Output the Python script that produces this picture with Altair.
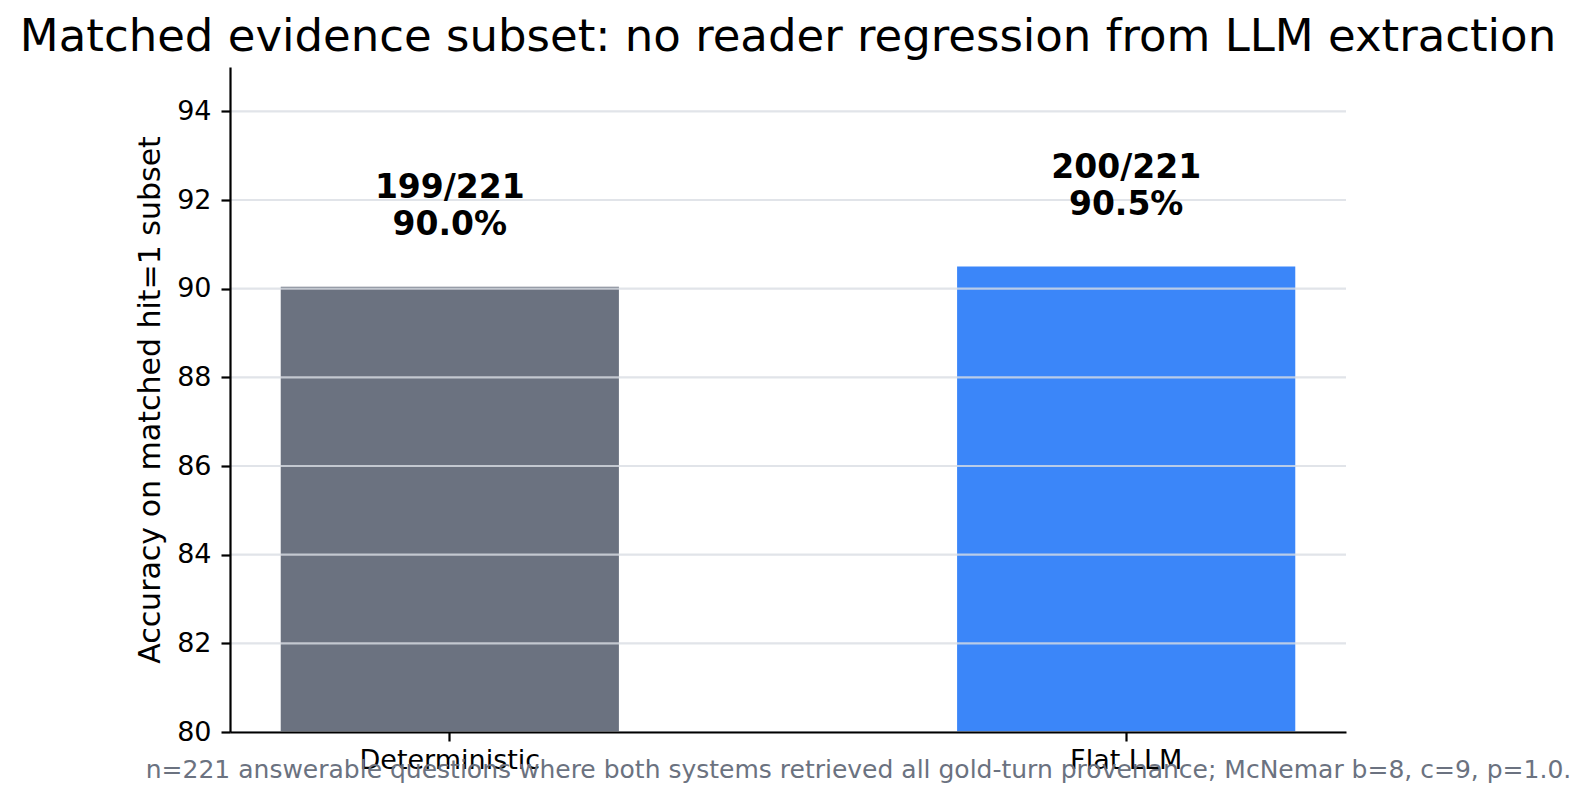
import altair as alt
import pandas as pd

systems = ["Deterministic", "Flat LLM"]
correct = [199, 200]
total = [221, 221]
colors = ["#6B7280", "#3B86F9"]
y_ticks = [80, 82, 84, 86, 88, 90, 92, 94]

df = pd.DataFrame({
    "system": systems,
    "correct": correct,
    "total": total,
    "color": colors,
})
df["acc"] = df["correct"] / df["total"] * 100
df["label"] = [f"{c}/{t}\n{c / t * 100:.1f}%" for c, t in zip(correct, total)]
df["label_y"] = df["acc"] + 1

grid_df = pd.DataFrame({"v": y_ticks})

FONT = "DejaVu Sans"
footnote = ("n=221 answerable questions where both systems retrieved all gold-turn "
            "provenance; McNemar b=8, c=9, p=1.0.")

x_enc = alt.X(
    "system:N",
    sort=systems,
    scale=alt.Scale(paddingInner=0.5, paddingOuter=0.075),
    axis=alt.Axis(
        title=footnote,
        titleFont=FONT, titleFontSize=25, titleFontWeight="normal",
        titleColor="#6B7280", titleX=628, titleY=45, titleAlign="center",
        titleAnchor="start", titleBaseline="alphabetic",
        labelFont=FONT, labelFontSize=27, labelColor="black", labelAngle=0,
        labelPadding=6, labelLimit=0, domainColor="black", domainWidth=2.2,
        tickColor="black", tickWidth=2.2, tickSize=9, grid=False, zindex=1,
    ),
)

y_scale = alt.Scale(domain=[80, 95], nice=False, zero=False)

bars = alt.Chart(df).mark_bar(clip=True).encode(
    x=x_enc,
    y=alt.Y(
        "acc:Q",
        scale=y_scale,
        axis=alt.Axis(
            title="Accuracy on matched hit=1 subset",
            titleFont=FONT, titleFontSize=30, titleFontWeight="normal",
            titleColor="black", titlePadding=11,
            values=y_ticks,
            labelFont=FONT, labelFontSize=27, labelColor="black",
            labelPadding=10, domainColor="black", domainWidth=2.2,
            tickColor="black", tickWidth=2.2, tickSize=9,
            grid=False, zindex=1,
        ),
    ),
    color=alt.Color("color:N", scale=None, legend=None),
)

grid = alt.Chart(grid_df).mark_rule(
    color="#D9DDE3", strokeWidth=2.2, opacity=0.8
).encode(
    y=alt.Y("v:Q", scale=y_scale),
)

labels = alt.Chart(df).mark_text(
    font=FONT, fontSize=33, fontWeight="bold", color="black",
    baseline="bottom", align="center", lineBreak="\n", lineHeight=37, dy=-37,
).encode(
    x=alt.X("system:N", sort=systems),
    y=alt.Y("label_y:Q", scale=y_scale),
    text="label:N",
)

chart = alt.layer(bars, grid, labels).properties(
    width=1116,
    height=665,
    background="white",
    autosize=alt.AutoSizeParams(type="none"),
    padding={"left": 222, "top": 59, "right": 230, "bottom": 55},
    title=alt.TitleParams(
        "Matched evidence subset: no reader regression from LLM extraction",
        font=FONT, fontSize=45, fontWeight="normal", color="black",
        anchor="middle", baseline="alphabetic", offset=14, dy=43,
    ),
).configure_view(stroke=None)

chart.save("out.html", embed_options={"renderer": "svg", "actions": False})
